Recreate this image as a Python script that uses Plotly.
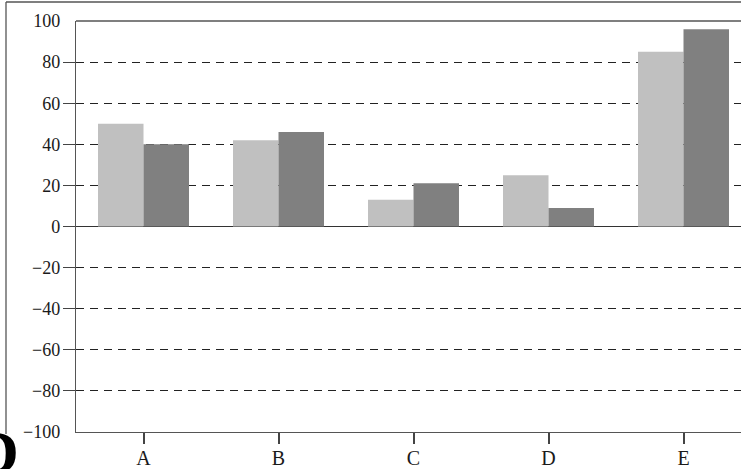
import plotly.graph_objects as go

categories = ["A", "B", "C", "D", "E"]
series_light = [50, 42, 13, 25, 85]
series_dark = [40, 46, 21, 9, 96]
ytick_vals = [-100, -80, -60, -40, -20, 0, 20, 40, 60, 80, 100]
ytick_text = ["−100", "−80", "−60", "−40", "−20", "0", "20", "40", "60", "80", "100"]
inner_tick_vals = [-80, -60, -40, -20, 0, 20, 40, 60, 80]

FONT = "Liberation Serif"
W, H = 741, 469
ML, MT, MB, MR = 76, 21, 37, 0
pw = W - ML - MR
ph = H - MT - MB

fig = go.Figure()
fig.add_trace(go.Bar(x=categories, y=series_light, marker=dict(color="#c0c0c0", line=dict(width=0)),
                     showlegend=False))
fig.add_trace(go.Bar(x=categories, y=series_dark, marker=dict(color="#808080", line=dict(width=0)),
                     showlegend=False))
# invisible trace to activate tick-only axis
fig.add_trace(go.Scatter(x=[categories[0]], y=[0], yaxis="y2", mode="markers",
                         marker=dict(opacity=0), showlegend=False, hoverinfo="skip"))

fig.update_layout(
    width=W, height=H,
    margin=dict(l=ML, r=MR, t=MT, b=MB, pad=0),
    paper_bgcolor="white", plot_bgcolor="white",
    barmode="group", bargap=0.326, bargroupgap=0,
    font=dict(family=FONT, size=18, color="#1a1a1a"),
    xaxis=dict(range=[-0.5, -0.5 + pw / 135.0], showline=True, linecolor="#555", linewidth=1.3,
               ticks="outside", ticklen=11, tickcolor="#444", tickwidth=1.5,
               ticklabelstandoff=-3,
               showgrid=False, zeroline=False, tickfont=dict(size=20)),
    yaxis=dict(range=[-100, 100], tickvals=ytick_vals, ticktext=ytick_text,
               showline=True, linecolor="#555", linewidth=1.3,
               ticks="outside", ticklen=12, tickcolor="rgba(0,0,0,0)",
               ticklabelstandoff=-1, tickfont=dict(size=18),
               showgrid=True, gridcolor="#222", gridwidth=1, griddash="8px,6px",
               zeroline=True, zerolinecolor="#333", zerolinewidth=1.2),
    yaxis2=dict(range=[-100, 100], overlaying="y", side="left", tickvals=inner_tick_vals,
                ticks="outside", ticklen=12, tickcolor="#444", tickwidth=1.3,
                showticklabels=False, showgrid=False, zeroline=False, showline=False),
)

# plot-area top border
fig.add_shape(type="line", xref="paper", yref="paper", x0=0, x1=1, y0=1, y1=1,
              line=dict(color="#555", width=1.3))
# outer frame (left and top)
fx = (6 - ML) / pw
fy = 1 + (MT - 2) / ph
fig.add_shape(type="line", xref="paper", yref="paper", x0=fx, x1=fx, y0=-0.005, y1=fy,
              line=dict(color="#555", width=1.3))
fig.add_shape(type="line", xref="paper", yref="paper", x0=fx, x1=1.0, y0=fy, y1=fy,
              line=dict(color="#555", width=1.3))

# panel label
fig.add_annotation(text="<b>D</b>", xref="paper", yref="paper",
                   x=(21 - ML) / pw, y=(432 - 416) / ph,
                   xanchor="right", yanchor="top", showarrow=False,
                   font=dict(family=FONT, size=62, color="black"))

fig.write_html("out.html", config={"displayModeBar": False},
               post_script="document.body.style.margin='0';document.body.style.overflow='hidden';")
